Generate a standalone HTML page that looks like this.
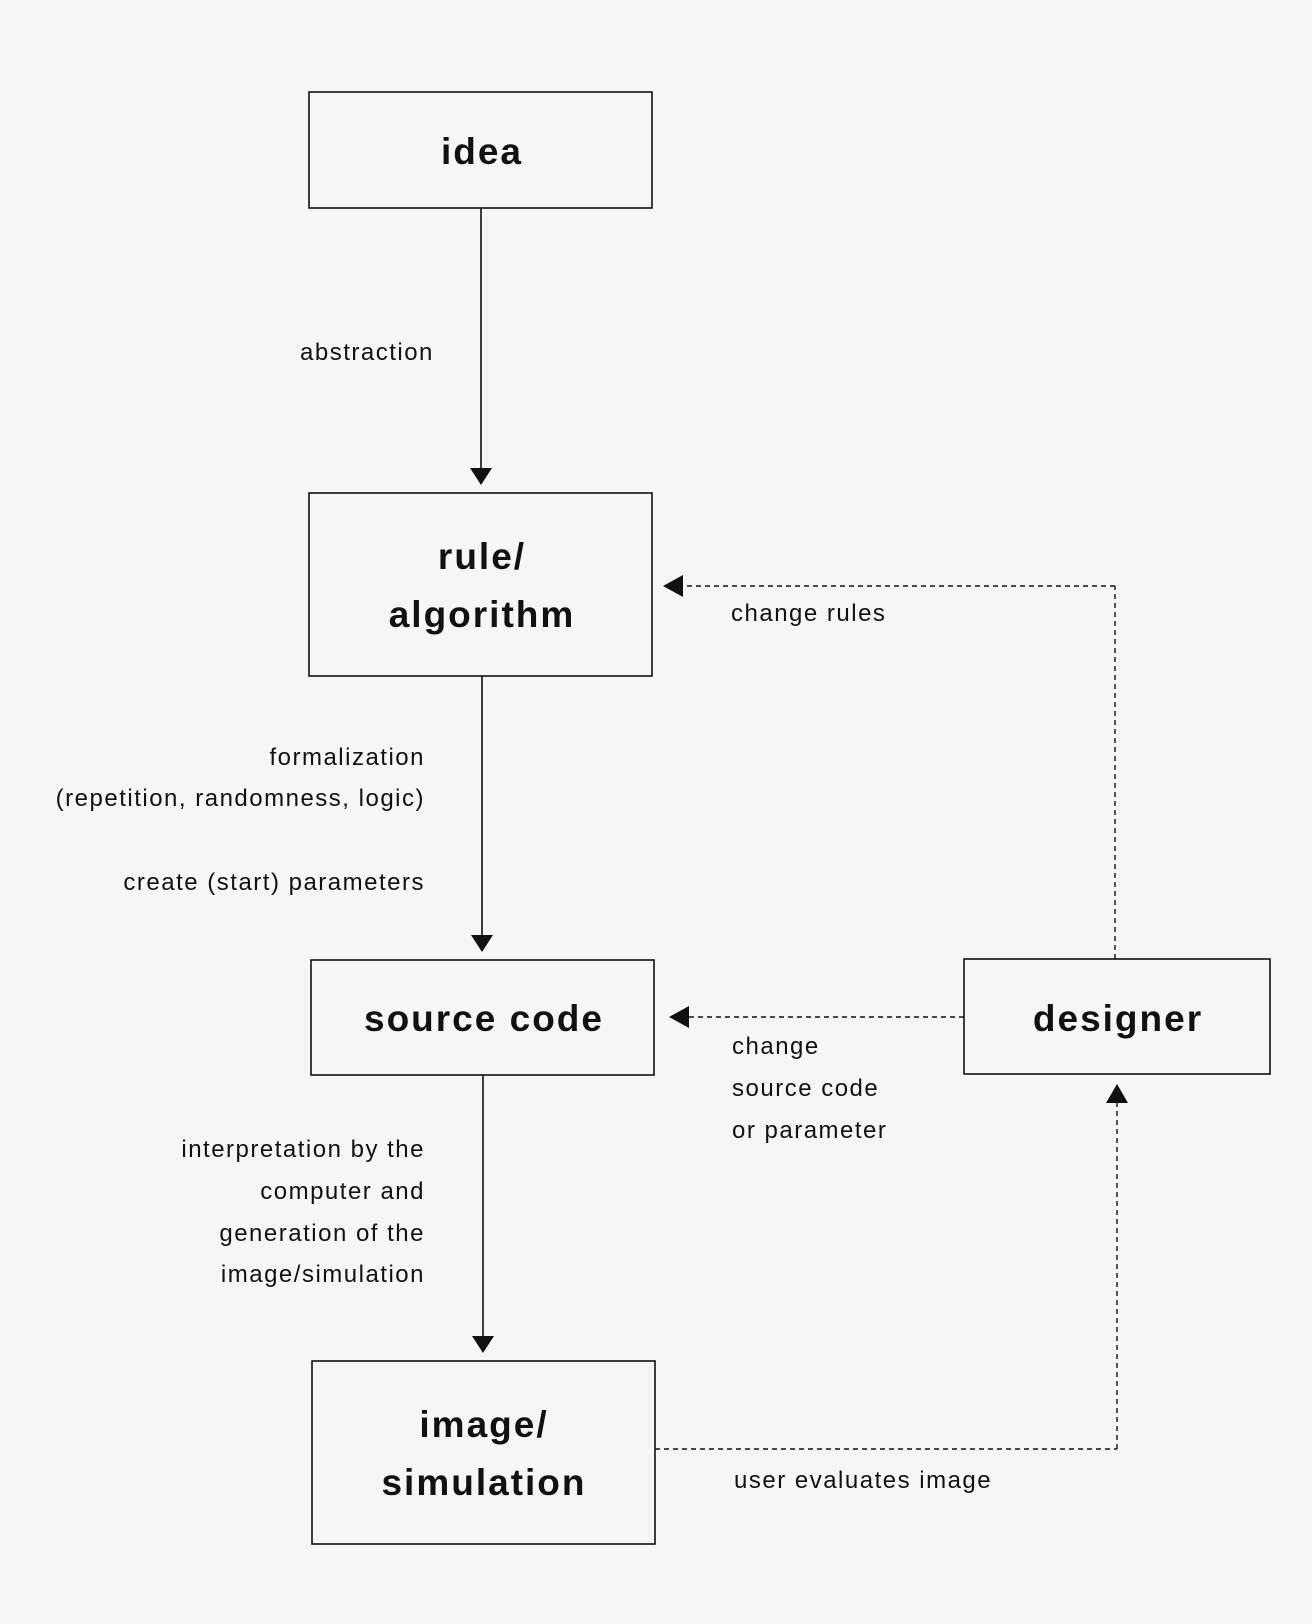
<!DOCTYPE html>
<html><head><style>
body{margin:0;background:#f6f6f4;}
svg{display:block}
text{font-family:"Liberation Sans",sans-serif;fill:#111}
.b{font-weight:bold;font-size:37px;text-anchor:middle;letter-spacing:2px}
.l{font-size:24px;letter-spacing:1.5px}
</style></head><body>
<svg width="1312" height="1624" viewBox="0 0 1312 1624" xmlns="http://www.w3.org/2000/svg">
<rect width="1312" height="1624" fill="#f6f6f4"/>
<g fill="none" stroke="#111" stroke-width="1.6">
<rect x="309" y="92" width="343" height="116"/>
<rect x="309" y="493" width="343" height="183"/>
<rect x="311" y="960" width="343" height="115"/>
<rect x="312" y="1361" width="343" height="183"/>
<rect x="964" y="959" width="306" height="115"/>
<line x1="481" y1="208" x2="481" y2="470"/>
<line x1="482" y1="676" x2="482" y2="938"/>
<line x1="483" y1="1075" x2="483" y2="1339"/>
</g>
<g fill="none" stroke="#111" stroke-width="1.4" stroke-dasharray="5,4">
<line x1="1115" y1="959" x2="1115" y2="586"/>
<line x1="1115" y1="586" x2="680" y2="586"/>
<line x1="964" y1="1017" x2="686" y2="1017"/>
<line x1="655" y1="1449" x2="1117" y2="1449"/>
<line x1="1117" y1="1449" x2="1117" y2="1102"/>
</g>
<g fill="#111">
<polygon points="470,468 492,468 481,485"/>
<polygon points="471,935 493,935 482,952"/>
<polygon points="472,1336 494,1336 483,1353"/>
<polygon points="663,586 683,575 683,597"/>
<polygon points="669,1017 689,1006 689,1028"/>
<polygon points="1117,1084 1106,1103 1128,1103"/>
</g>
<text class="b" x="482" y="164">idea</text>
<text class="b" x="482" y="569">rule/</text>
<text class="b" x="482" y="627">algorithm</text>
<text class="b" x="484" y="1031">source code</text>
<text class="b" x="1118" y="1031">designer</text>
<text class="b" x="484" y="1437">image/</text>
<text class="b" x="484" y="1495">simulation</text>
<text class="l" x="300" y="360">abstraction</text>
<text class="l" x="425" y="765" text-anchor="end">formalization</text>
<text class="l" x="425" y="806" text-anchor="end">(repetition, randomness, logic)</text>
<text class="l" x="425" y="890" text-anchor="end">create (start) parameters</text>
<text class="l" x="425" y="1157" text-anchor="end">interpretation by the</text>
<text class="l" x="425" y="1199" text-anchor="end">computer and</text>
<text class="l" x="425" y="1241" text-anchor="end">generation of the</text>
<text class="l" x="425" y="1282" text-anchor="end">image/simulation</text>
<text class="l" x="731" y="621">change rules</text>
<text class="l" x="732" y="1054">change</text>
<text class="l" x="732" y="1096">source code</text>
<text class="l" x="732" y="1138">or parameter</text>
<text class="l" x="734" y="1488">user evaluates image</text>
</svg>
</body></html>
